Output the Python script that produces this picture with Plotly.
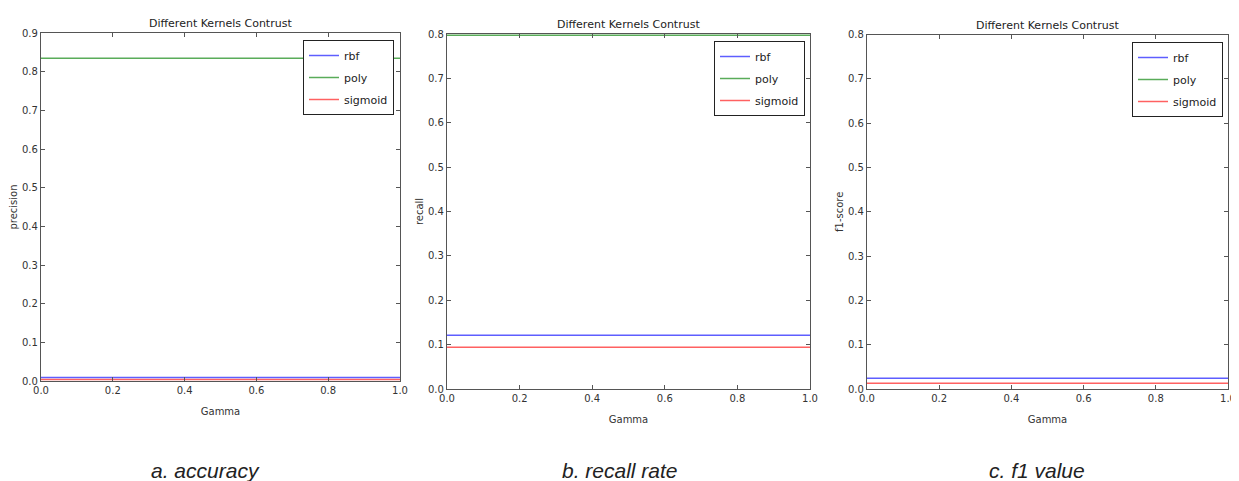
import plotly.graph_objects as go

gamma = [0.0, 0.2, 0.4, 0.6, 0.8, 1.0]

# a. accuracy (precision)
prec_rbf = [0.009, 0.009, 0.009, 0.009, 0.009, 0.009]
prec_poly = [0.835, 0.835, 0.835, 0.835, 0.835, 0.835]
prec_sigmoid = [0.004, 0.004, 0.004, 0.004, 0.004, 0.004]

# b. recall rate
rec_rbf = [0.121, 0.121, 0.121, 0.121, 0.121, 0.121]
rec_poly = [0.797, 0.797, 0.797, 0.797, 0.797, 0.797]
rec_sigmoid = [0.094, 0.094, 0.094, 0.094, 0.094, 0.094]

# c. f1 value (poly line not visible in the picture)
f1_rbf = [0.024, 0.024, 0.024, 0.024, 0.024, 0.024]
f1_poly = [None, None, None, None, None, None]
f1_sigmoid = [0.013, 0.013, 0.013, 0.013, 0.013, 0.013]

kernels = ["rbf", "poly", "sigmoid"]
colors = {"rbf": "rgba(40,40,255,0.75)", "poly": "rgba(0,128,0,0.65)", "sigmoid": "rgba(255,30,30,0.7)"}

panels = [
    {"series": [prec_rbf, prec_poly, prec_sigmoid], "ylabel": "precision", "ymax": 0.9,
     "yticks": [0.0, 0.1, 0.2, 0.3, 0.4, 0.5, 0.6, 0.7, 0.8, 0.9], "caption": "a. accuracy"},
    {"series": [rec_rbf, rec_poly, rec_sigmoid], "ylabel": "recall", "ymax": 0.8,
     "yticks": [0.0, 0.1, 0.2, 0.3, 0.4, 0.5, 0.6, 0.7, 0.8], "caption": "b. recall rate"},
    {"series": [f1_rbf, f1_poly, f1_sigmoid], "ylabel": "f1-score", "ymax": 0.8,
     "yticks": [0.0, 0.1, 0.2, 0.3, 0.4, 0.5, 0.6, 0.7, 0.8], "caption": "c. f1 value"},
]
xticks = [0.0, 0.2, 0.4, 0.6, 0.8, 1.0]
title_text = "Different Kernels Contrust"

# page has an 8px body margin; lay out in page pixels and convert
OFF = 8
W, H = 1239 - OFF, 481 - OFF
# pixel boxes of each panel in page coords: (left, right, top, bottom)
boxes = [(41, 400, 33, 381), (447, 810, 34, 389), (867, 1228, 34.5, 389)]
legend_boxes = [(394, 40), (805, 41), (1223, 42)]  # right, top
caption_x = [205, 620, 1037]


def px(x):
    return (x - OFF) / W


def py(y):
    return 1 - (y - OFF) / H


FONT = "DejaVu Sans"
fig = go.Figure()
layout = dict(width=W, height=H, margin=dict(l=0, r=0, t=0, b=0, autoexpand=False),
              paper_bgcolor="white", plot_bgcolor="white", annotations=[])

for i, p in enumerate(panels):
    n = "" if i == 0 else str(i + 1)
    lg = "legend" if i == 0 else "legend" + str(i + 1)
    for k, vals in zip(kernels, p["series"]):
        fig.add_trace(go.Scatter(x=gamma, y=vals, mode="lines", name=k, legendgroup=k + n,
                                 line=dict(color=colors[k], width=1.5),
                                 xaxis="x" + n, yaxis="y" + n, legend=lg))
    l, r, t, b = boxes[i]
    axstyle = dict(showline=True, linecolor="#555555", linewidth=1.2, mirror="ticks",
                   ticks="inside", ticklen=4, tickcolor="#555555", showgrid=False,
                   zeroline=False, automargin=False,
                   tickfont=dict(family=FONT, size=10, color="#333333"))
    layout["xaxis" + n] = dict(domain=[px(l), px(r)], range=[0, 1], anchor="y" + n,
                               tickvals=xticks, ticktext=["%.1f" % v for v in xticks],
                               title=dict(text="Gamma", font=dict(family=FONT, size=10, color="#333333"), standoff=12),
                               **axstyle)
    layout["yaxis" + n] = dict(domain=[py(b), py(t)], range=[0, p["ymax"]], anchor="x" + n,
                               tickvals=p["yticks"], ticktext=["%.1f" % v for v in p["yticks"]],
                               title=dict(text=p["ylabel"], font=dict(family=FONT, size=10, color="#333333"), standoff=2),
                               **axstyle)
    lr, lt = legend_boxes[i]
    layout[lg] = dict(x=px(lr), y=py(lt), xanchor="right", yanchor="top",
                      bgcolor="white", bordercolor="#222222", borderwidth=1, tracegroupgap=3,
                      font=dict(family=FONT, size=11, color="#222222"), itemwidth=30)
    layout["annotations"].append(dict(text=title_text, x=px((l + r) / 2), y=py(t - 1),
                                      xref="paper", yref="paper", xanchor="center", yanchor="bottom",
                                      showarrow=False, font=dict(family=FONT, size=11, color="#222222")))
    layout["annotations"].append(dict(text="<i>" + p["caption"] + "</i>", x=px(caption_x[i]), y=py(470),
                                      xref="paper", yref="paper", xanchor="center", yanchor="middle",
                                      showarrow=False, font=dict(family="Liberation Sans", size=21, color="#222222")))

fig.update_layout(**layout)
fig.write_html("out.html")
